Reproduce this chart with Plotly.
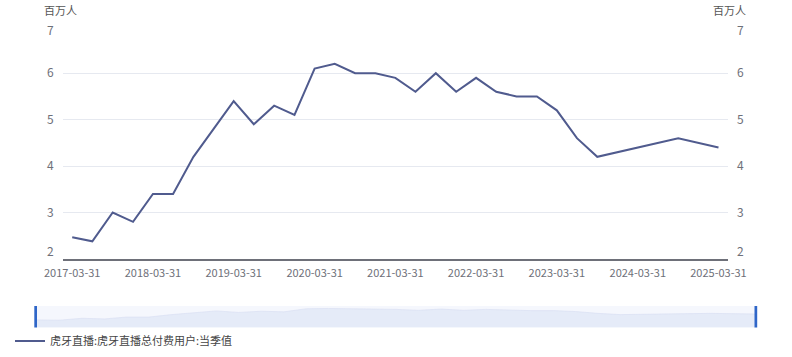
import plotly.graph_objects as go

dates = ["2017-03-31", "2017-06-30", "2017-09-30", "2017-12-31",
         "2018-03-31", "2018-06-30", "2018-09-30", "2018-12-31",
         "2019-03-31", "2019-06-30", "2019-09-30", "2019-12-31",
         "2020-03-31", "2020-06-30", "2020-09-30", "2020-12-31",
         "2021-03-31", "2021-06-30", "2021-09-30", "2021-12-31",
         "2022-03-31", "2022-06-30", "2022-09-30", "2022-12-31",
         "2023-03-31", "2023-06-30", "2023-09-30",
         "2024-09-30", "2025-03-31"]
values = [2.47, 2.38, 3.0, 2.8,
          3.4, 3.4, 4.2, 4.8,
          5.4, 4.9, 5.3, 5.1,
          6.1, 6.2, 6.0, 6.0,
          5.9, 5.6, 6.0, 5.6,
          5.9, 5.6, 5.5, 5.5,
          5.2, 4.6, 4.2,
          4.6, 4.4]
series_name = "虎牙直播:虎牙直播总付费用户:当季值"
unit = "百万人"
x_ticks = ["2017-03-31", "2018-03-31", "2019-03-31", "2020-03-31", "2021-03-31",
           "2022-03-31", "2023-03-31", "2024-03-31", "2025-03-31"]
y_ticks_mid = [3, 4, 5, 6]
y_tick_min = [2]
y_tick_max = [7]

W, H = 792, 357
FONT = "Noto Sans CJK SC, Open Sans, sans-serif"
LINE = "#505B8E"
TICK = "#6E7079"

def py(p):
    return 1 - p / H

def px(p):
    return p / W

Y_DOM = [py(259), py(26.7)]

fig = go.Figure()
# slider data background
fig.add_trace(go.Scatter(x=dates, y=values, mode="lines", xaxis="x2", yaxis="y3",
                         line=dict(color="rgba(214,222,242,1)", width=0.6),
                         fill="tozeroy", fillcolor="rgba(228,234,248,0.95)",
                         showlegend=False, hoverinfo="skip"))
# main line
fig.add_trace(go.Scatter(x=dates, y=values, mode="lines", name=series_name,
                         line=dict(color=LINE, width=2), xaxis="x", yaxis="y"))
# invisible traces that carry the extra tick-label axes
for ya in ["y2", "y4", "y5", "y6", "y7"]:
    fig.add_trace(go.Scatter(x=dates, y=values, mode="lines", xaxis="x", yaxis=ya,
                             line=dict(color="rgba(0,0,0,0)", width=0),
                             showlegend=False, hoverinfo="skip"))

def lab_axis(side, vals, shift):
    return dict(domain=Y_DOM, range=[2, 7], tickvals=vals, overlaying="y",
                side=side, showgrid=False, zeroline=False, showline=False,
                ticks="", anchor="x", ticklabelstandoff=8, ticklabelshift=shift,
                tickfont=dict(size=12, color=TICK))

xrange = ["2017-02-16", "2025-05-13"]
fig.update_layout(
    width=W, height=H,
    margin=dict(l=0, r=0, t=0, b=0, autoexpand=False),
    paper_bgcolor="white", plot_bgcolor="white",
    font=dict(family=FONT, size=11, color=TICK),
    xaxis=dict(domain=[px(62.7), px(728)], type="date", range=xrange,
               tickvals=x_ticks, ticktext=x_ticks, showgrid=False,
               showline=True, linecolor="#6E7079", linewidth=1.5,
               ticks="", zeroline=False, anchor="y", ticklabelstandoff=3,
               tickfont=dict(size=11, color=TICK)),
    yaxis=dict(domain=Y_DOM, range=[2, 7], tickvals=[2, 3, 4, 5, 6, 7],
               ticktext=["", "3", "4", "5", "6", ""],
               showgrid=True, gridcolor="#E6E9F0", gridwidth=1, zeroline=False,
               showline=False, ticks="", side="left", anchor="x",
               ticklabelstandoff=8, tickfont=dict(size=12, color=TICK)),
    yaxis2=lab_axis("right", y_ticks_mid, 0),
    yaxis4=lab_axis("left", y_tick_min, -7),
    yaxis5=lab_axis("left", y_tick_max, 4),
    yaxis6=lab_axis("right", y_tick_min, -7),
    yaxis7=lab_axis("right", y_tick_max, 4),
    xaxis2=dict(domain=[px(37), px(755)], type="date",
                range=[dates[0], dates[-1]], visible=False, anchor="y3"),
    yaxis3=dict(domain=[py(327.5), py(306)], range=[0, 7], visible=False,
                anchor="x2"),
    showlegend=True,
    legend=dict(x=px(10), y=py(341), xanchor="left", yanchor="middle",
                orientation="h", itemwidth=30,
                font=dict(size=11, color="#444"), bgcolor="rgba(0,0,0,0)"),
    shapes=[
        dict(type="rect", xref="paper", yref="paper", x0=px(36), x1=px(757),
             y0=py(327.5), y1=py(306), fillcolor="#F5F7FD", line=dict(width=0),
             layer="below"),
        dict(type="rect", xref="paper", yref="paper", x0=px(34.3), x1=px(37),
             y0=py(327.5), y1=py(306), fillcolor="#2F66C8", line=dict(width=0)),
        dict(type="rect", xref="paper", yref="paper", x0=px(754.5), x1=px(757.2),
             y0=py(327.5), y1=py(306), fillcolor="#2F66C8", line=dict(width=0)),
    ],
    annotations=[
        dict(text=unit, xref="paper", yref="paper", x=px(42), y=py(10),
             xanchor="left", yanchor="middle", showarrow=False,
             font=dict(size=11, color="#555")),
        dict(text=unit, xref="paper", yref="paper", x=px(748), y=py(10),
             xanchor="right", yanchor="middle", showarrow=False,
             font=dict(size=11, color="#555")),
    ],
)

fig.write_html("out.html", post_script="document.body.style.margin='0px';",
               config={"displayModeBar": False})
